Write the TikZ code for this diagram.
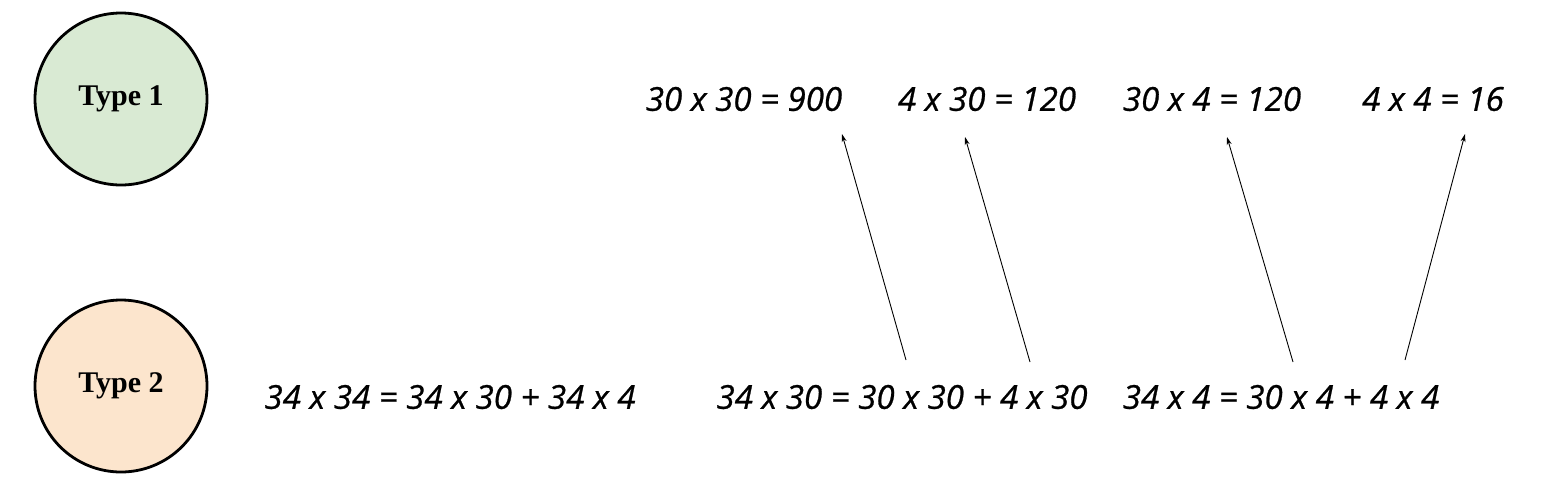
\documentclass[tikz,border=0pt]{standalone}
\usepackage{fontspec}
\setmainfont{Liberation Serif}
\newfontfamily\handfont{Open Sans}[FakeBold=0.8]
\usetikzlibrary{arrows.meta, positioning}
\definecolor{typegreen}{HTML}{D9EAD3}
\definecolor{typeorange}{HTML}{FCE5CD}

\begin{document}
\begin{tikzpicture}[
  x=1pt, y=-1pt,
  typecirc/.style={circle,draw,line width=2.8pt,minimum size=172pt,inner sep=0pt,font=\fontsize{30}{34}\selectfont\bfseries},
  eqn/.style={font=\handfont\itshape\fontsize{33}{38}\selectfont,inner sep=0pt},
  arrow/.style={-{Stealth[length=8pt,width=5pt]},line width=0.9pt}
]
\useasboundingbox (0,0) rectangle (1555,496);

% ----- Cercles -------------------------------------------------------------
\node[typecirc,fill=typegreen]  (type1) at (121,99)  {Type 1};
\node[typecirc,fill=typeorange] (type2) at (121,386) {Type 2};

% ----- Produits partiels (haut) -------------------------------------------
\node[eqn] (p1) at (744,99)  {30 x 30 = 900};
\node[eqn] (p2) at (987,99)  {4 x 30 = 120};
\node[eqn] (p3) at (1212,99) {30 x 4 = 120};
\node[eqn] (p4) at (1433,99) {4 x 4 = 16};

% ----- Décompositions (bas) -----------------------------------------------
\node[eqn] (d1) at (450,397)  {34 x 34 = 34 x 30 + 34 x 4};
\node[eqn] (d2) at (902,397)  {34 x 30 = 30 x 30 + 4 x 30};
\node[eqn] (d3) at (1281,397) {34 x 4 = 30 x 4 + 4 x 4};

% ----- Points de départ/arrivée des flèches -------------------------------
\coordinate (d2a) at (906,360);
\coordinate (d2b) at (1030,362);
\coordinate (d3a) at (1293,362);
\coordinate (d3b) at (1405,360);
\coordinate (p1t) at (842,134);
\coordinate (p2t) at (965,137);
\coordinate (p3t) at (1227,137);
\coordinate (p4t) at (1465,134);

% ----- Flèches -------------------------------------------------------------
\draw[arrow] (d2a) -- (p1t);
\draw[arrow] (d2b) -- (p2t);
\draw[arrow] (d3a) -- (p3t);
\draw[arrow] (d3b) -- (p4t);

\end{tikzpicture}
\end{document}
